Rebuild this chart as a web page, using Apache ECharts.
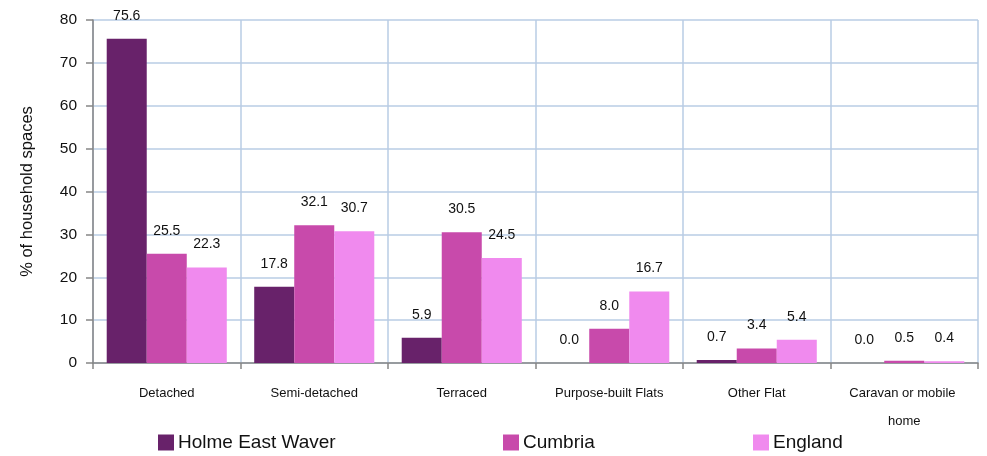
<!DOCTYPE html>
<html>
<head>
<meta charset="utf-8">
<script src="https://cdn.jsdelivr.net/npm/echarts@6/dist/echarts.min.js"></script>
<style>
  html, body { margin: 0; padding: 0; background: #fff; }
  #chart { width: 987px; height: 456px; }
</style>
</head>
<body>
<div id="chart"></div>
<script>
// categories and values
const categories = ['Detached', 'Semi-detached', 'Terraced', 'Purpose-built Flats', 'Other Flat', 'Caravan or mobile home'];
const holmeEastWaver = [75.6, 17.8, 5.9, 0.0, 0.7, 0.0];
const cumbria = [25.5, 32.1, 30.5, 8.0, 3.4, 0.5];
const england = [22.3, 30.7, 24.5, 16.7, 5.4, 0.4];
const seriesNames = ['Holme East Waver', 'Cumbria', 'England'];
const colors = ['#68226A', '#C84AAB', '#F08AEE'];

const font = 'Liberation Sans, Arial, sans-serif';

let chart = echarts.init(document.getElementById('chart'));

const mkSeries = (name, data, color) => ({
    name: name,
    type: 'bar',
    data: data,
    barGap: 0,
    barCategoryGap: '18.6%',
    itemStyle: { color: color },
    label: {
        show: true,
        position: 'top',
        distance: 16,
        fontFamily: font,
        fontSize: 14,
        color: '#111',
        formatter: p => p.value.toFixed(1)
    }
});

const mkLegend = (name, left) => ({
    data: [name],
    left: left,
    top: 428,
    itemWidth: 16,
    itemHeight: 16,
    itemGap: 0,
    icon: 'rect',
    textStyle: { fontFamily: font, fontSize: 19, color: '#111', padding: [0, 0, 0, -1] }
});

chart.setOption({
    animation: false,
    color: colors,
    grid: { left: 93, right: 9, top: 20, bottom: 93 },
    legend: [
        mkLegend(seriesNames[0], 153),
        mkLegend(seriesNames[1], 498),
        mkLegend(seriesNames[2], 748)
    ],
    xAxis: {
        type: 'category',
        data: categories,
        axisLine: { lineStyle: { color: '#868686', width: 1.5 } },
        axisTick: { show: true, length: 6, lineStyle: { color: '#868686', width: 1.5 } },
        splitLine: { show: true, lineStyle: { color: '#B9CDE5', width: 1.5 } },
        axisLabel: {
            fontFamily: font,
            fontSize: 13,
            color: '#111',
            margin: 16,
            width: 130,
            overflow: 'break',
            lineHeight: 28,
            interval: 0
        }
    },
    yAxis: {
        type: 'value',
        min: 0,
        max: 80,
        interval: 10,
        name: '% of household spaces',
        nameLocation: 'middle',
        nameGap: 57,
        nameTextStyle: { fontFamily: font, fontSize: 16.5, color: '#111' },
        axisLine: { show: true, lineStyle: { color: '#868686', width: 1.5 } },
        axisTick: { show: true, length: 7, lineStyle: { color: '#868686', width: 1.5 } },
        splitLine: { lineStyle: { color: '#B9CDE5', width: 1.5 } },
        axisLabel: { fontFamily: font, fontSize: 15.5, color: '#111', margin: 16 }
    },
    series: [
        mkSeries(seriesNames[0], holmeEastWaver, colors[0]),
        mkSeries(seriesNames[1], cumbria, colors[1]),
        mkSeries(seriesNames[2], england, colors[2])
    ]
});
</script>
</body>
</html>
